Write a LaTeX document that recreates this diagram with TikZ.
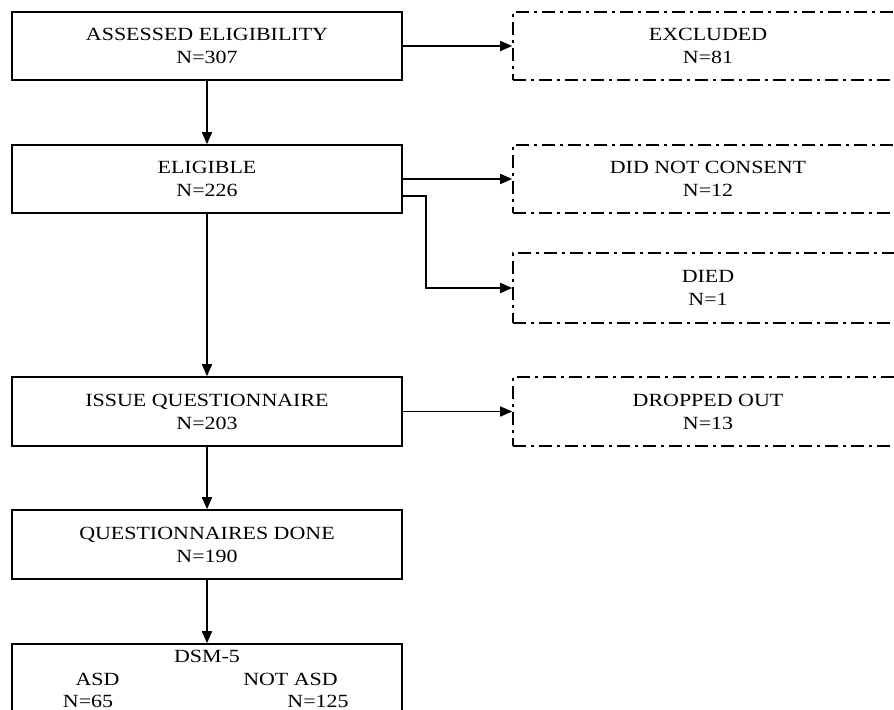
\documentclass[tikz,border=0pt]{standalone}
\usepackage{fontspec}
\setmainfont[FakeStretch=1.18]{Liberation Serif}
\usetikzlibrary{arrows.meta}
\begin{document}
\begin{tikzpicture}[x=1bp,y=-1bp,
  txt/.style={font=\fontsize{18.6bp}{23bp}\selectfont},
  box/.style={draw, line width=1.6bp, minimum width=390bp, minimum height=68bp, inner sep=0pt, align=center, txt},
  xbox/.style={box, dash pattern=on 13bp off 5bp on 3bp off 5bp},
  arr/.style={line width=1.6bp, -{Triangle[length=12bp,width=10bp]}},
  lbl/.style={txt, anchor=base, inner sep=0pt}]
\useasboundingbox (0,0) rectangle (894,710);
\clip (0,0) rectangle (894,710);
% main column
\node[box] (A) at (207,46) {ASSESSED ELIGIBILITY\\N=307};
\node[box] (E) at (207,179) {ELIGIBLE\\N=226};
\node[box, minimum height=69bp] (I) at (207,411.5) {ISSUE QUESTIONNAIRE\\N=203};
\node[box, minimum height=69bp] (Q) at (207,544.5) {QUESTIONNAIRES DONE\\N=190};
\node[box, minimum height=80bp] (S) at (207,684) {};
\node[lbl] (st) at (207,662) {DSM-5};
\node[lbl] (sa) at (97.5,685) {ASD};
\node[lbl] (sn) at (290.5,685) {NOT ASD};
\node[lbl] (sa2) at (88,707) {N=65};
\node[lbl] (sn2) at (318,707) {N=125};
% side boxes
\node[xbox] (X) at (708,46) {EXCLUDED\\N=81};
\node[xbox] (C) at (708,179) {DID NOT CONSENT\\N=12};
\node[xbox, minimum height=70bp] (D) at (708,288) {DIED\\N=1};
\node[xbox, minimum height=69bp] (O) at (708,411.5) {DROPPED OUT\\N=13};
% connectors
\draw[arr] (A) -- (E);
\draw[arr] (E) -- (I);
\draw[arr] (I) -- (Q);
\draw[arr] (Q) -- (S);
\draw[arr] (A.east) -- (X.west);
\draw[arr] (E.east) -- (C.west);
\draw[arr] ([yshift=-17bp]E.east) -- ++(23,0) |- (D.west);
\draw[arr] (I.east) -- (O.west);
\end{tikzpicture}
\end{document}
